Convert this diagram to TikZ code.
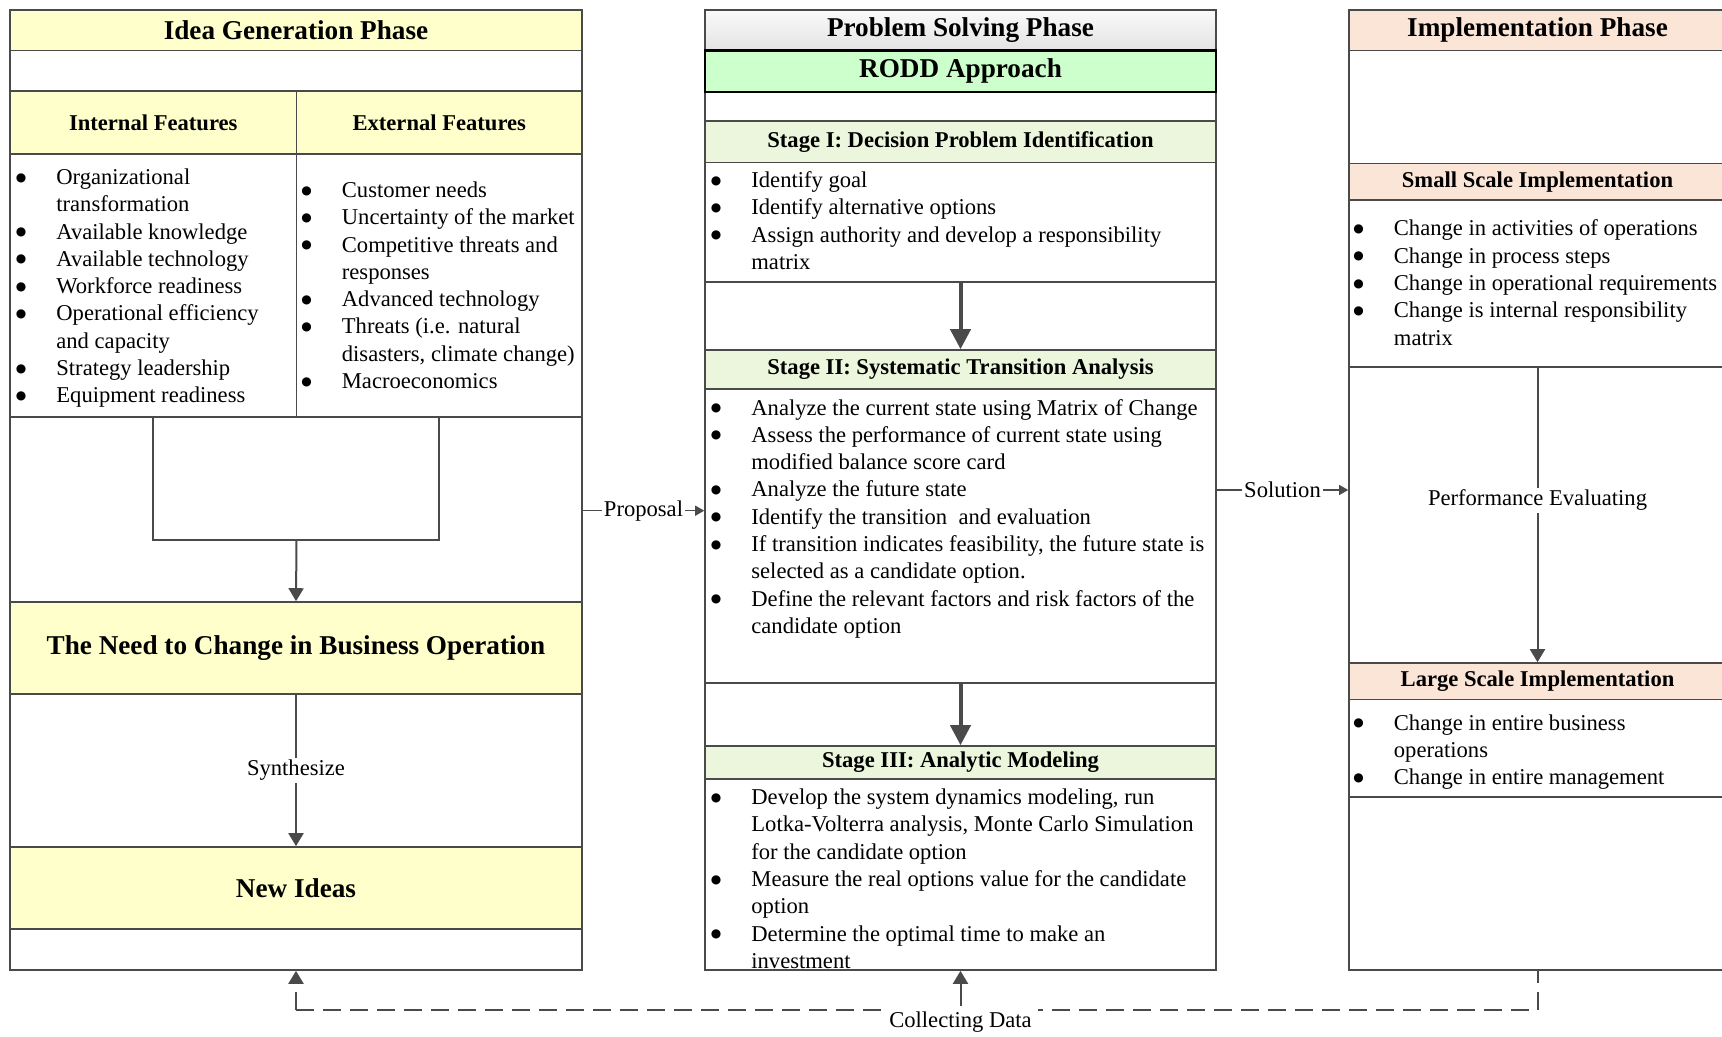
\documentclass[tikz,border=0pt]{standalone}
\usepackage{fontspec}
\setmainfont{Liberation Serif}
\newfontfamily\bulfont{DejaVu Sans}
\usetikzlibrary{fit,arrows.meta,calc}

\definecolor{edge}{HTML}{4A4A4A}
\definecolor{ideafill}{HTML}{FFFFCC}
\definecolor{roddfill}{HTML}{CCFFCC}
\definecolor{stagefill}{HTML}{EBF6DC}
\definecolor{implfill}{HTML}{FBE5D6}

\newcommand\bodyfont{\fontsize{11.3}{13.65}\selectfont}
\newcommand\phasefont{\fontsize{13.6}{16}\selectfont\bfseries}
\newcommand\subfont{\fontsize{11.3}{13.65}\selectfont\bfseries}
% bullet list: a bullet column and a text column, one row per printed line
\newcommand\blist[1]{\bodyfont\begin{tabular}[t]{@{}p{19.75pt}@{}l@{}}#1\end{tabular}}
\newcommand\bul{\hspace*{-0.5pt}\raisebox{1.7pt}{\bulfont\fontsize{6}{6}\selectfont ●}}

\begin{document}
\begin{tikzpicture}[x=0.5pt,y=-0.5pt,
  box/.style={draw=edge,line width=0.8pt,inner sep=0pt,fit={#1}},
  conn/.style={draw=edge,line width=1pt},
  arr/.style={conn,-{Triangle[length=6.5pt,width=7.5pt]}},
  smallarr/.style={draw=edge,line width=0.7pt,-{Triangle[length=4.5pt,width=5pt]}},
  bigarr/.style={draw=edge,line width=2pt,-{Triangle[length=10pt,width=10pt]}},
  lbl/.style={fill=white,inner sep=1pt,font=\bodyfont},
  listnode/.style={anchor=base west,inner sep=0pt},
  dashline/.style={draw=edge,line width=1pt,dash pattern=on 9pt off 4.5pt},
]
\useasboundingbox (0,0) rectangle (1722,1037);
\clip (0,0) rectangle (1722,1037);
\fill[white] (0,0) rectangle (1722,1037);

% ---------- column outlines ----------
\node[box={(10,10) (582,970)}] (igCol) {};
\node[box={(705,10) (1216,970)}] (psCol) {};
\node[box={(1349,10) (1726,970)}] (imCol) {};

% ---------- Idea Generation Phase ----------
\node[box={(10,10) (582,50.5)},fill=ideafill,label={[font=\phasefont]center:Idea Generation Phase}] (igTitle) {};
\node[box={(10,91) (296.5,154)},fill=ideafill,label={[font=\subfont]center:Internal Features}] (intHead) {};
\node[box={(296.5,91) (582,154)},fill=ideafill,label={[font=\subfont]center:External Features}] (extHead) {};
\node[box={(10,154) (296.5,417)}] (intBody) {};
\node[box={(296.5,154) (582,417)}] (extBody) {};
\node[box={(10,602) (582,694)},fill=ideafill,label={[font=\phasefont]center:The Need to Change in Business Operation}] (need) {};
\node[box={(10,847) (582,929)},fill=ideafill,label={[font=\phasefont]center:New Ideas}] (newIdeas) {};

\node[listnode] (intList) at (16.5,184.5) {\blist{%
\bul & Organizational\\
     & transformation\\
\bul & Available knowledge\\
\bul & Available technology\\
\bul & Workforce readiness\\
\bul & Operational efficiency\\
     & and capacity\\
\bul & Strategy leadership\\
\bul & Equipment readiness}};

\node[listnode] (extList) at (302,197.5) {\blist{%
\bul & Customer needs\\
\bul & Uncertainty of the market\\
\bul & Competitive threats and\\
     & responses\\
\bul & Advanced technology\\
\bul & Threats (i.e. natural\\
     & disasters, climate change)\\
\bul & Macroeconomics}};

\coordinate (merge) at (296.5,540);
\draw[conn] (intBody.south) |- (merge) -| (extBody.south);
\draw[arr] (merge) -- (need.north);
\draw[arr] (need.south) -- node[lbl] {Synthesize} (newIdeas.north);

% ---------- Problem Solving Phase ----------
\node[box={(705,10) (1216,50.5)},top color=gray!4,bottom color=gray!22,label={[font=\phasefont]center:Problem Solving Phase}] (psTitle) {};
\node[box={(705,50.5) (1216,92)},draw=black,line width=1.2pt,fill=roddfill,label={[font=\phasefont]center:RODD Approach}] (rodd) {};
\node[box={(705,121) (1216,162.5)},fill=stagefill,label={[font=\subfont]center:Stage I: Decision Problem Identification}] (s1Head) {};
\node[box={(705,162.5) (1216,282)}] (s1Body) {};
\node[box={(705,350) (1216,389)},fill=stagefill,label={[font=\subfont]center:Stage II: Systematic Transition Analysis}] (s2Head) {};
\node[box={(705,389) (1216,683)}] (s2Body) {};
\node[box={(705,746) (1216,779)},fill=stagefill,label={[font=\subfont]center:Stage III: Analytic Modeling}] (s3Head) {};
\node[box={(705,779) (1216,970)}] (s3Body) {};

\node[listnode] (s1List) at (711.5,187.5) {\blist{%
\bul & Identify goal\\
\bul & Identify alternative options\\
\bul & Assign authority and develop a responsibility\\
     & matrix}};

\node[listnode] (s2List) at (711.5,415) {\blist{%
\bul & Analyze the current state using Matrix of Change\\
\bul & Assess the performance of current state using\\
     & modified balance score card\\
\bul & Analyze the future state\\
\bul & Identify the transition\ \ and evaluation\\
\bul & If transition indicates feasibility, the future state is\\
     & selected as a candidate option.\\
\bul & Define the relevant factors and risk factors of the\\
     & candidate option}};

\node[listnode] (s3List) at (711.5,804.5) {\blist{%
\bul & Develop the system dynamics modeling, run\\
     & Lotka-Volterra analysis, Monte Carlo Simulation\\
     & for the candidate option\\
\bul & Measure the real options value for the candidate\\
     & option\\
\bul & Determine the optimal time to make an\\
     & investment}};

\draw[bigarr] (s1Body.south) -- (s2Head.north);
\draw[bigarr] (s2Body.south) -- (s3Head.north);

% ---------- Implementation Phase ----------
\node[box={(1349,10) (1726,50.5)},fill=implfill,label={[font=\phasefont]center:Implementation Phase}] (imTitle) {};
\node[box={(1349,163.6) (1726,200)},fill=implfill,label={[font=\subfont]center:Small Scale Implementation}] (smHead) {};
\node[box={(1349,200) (1726,367)}] (smBody) {};
\node[box={(1349,663) (1726,699.5)},fill=implfill,label={[font=\subfont]center:Large Scale Implementation}] (lgHead) {};
\node[box={(1349,699.5) (1726,797)}] (lgBody) {};

\node[listnode] (smList) at (1354,236) {\blist{%
\bul & Change in activities of operations\\
\bul & Change in process steps\\
\bul & Change in operational requirements\\
\bul & Change is internal responsibility\\
     & matrix}};

\node[listnode] (lgList) at (1354,730) {\blist{%
\bul & Change in entire business\\
     & operations\\
\bul & Change in entire management}};

\draw[arr] (smBody.south) -- node[lbl,pos=0.45] {Performance Evaluating} (lgHead.north);

% ---------- links between phases ----------
\draw[smallarr] ([yshift=-10.35pt]igCol.east) -- node[lbl] {Proposal} ([yshift=-10.35pt]psCol.west);
\draw[smallarr] (psCol.east) -- node[lbl] {Solution} (imCol.west);

% ---------- feedback loop ----------
\coordinate (cdL) at (296,1010);
\coordinate (cdR) at (1537.5,1010);
\draw[dashline,-{Triangle[length=6.5pt,width=7.5pt]}] (cdL) -- (igCol.south);
\draw[dashline] (cdL) -- (cdR) -- (imCol.south);
\node[fill=white,inner sep=3pt,font=\bodyfont] (cdLabel) at (960.5,1022.5) {Collecting Data};
\draw[arr] (cdLabel.north) -- (psCol.south);
\end{tikzpicture}
\end{document}
